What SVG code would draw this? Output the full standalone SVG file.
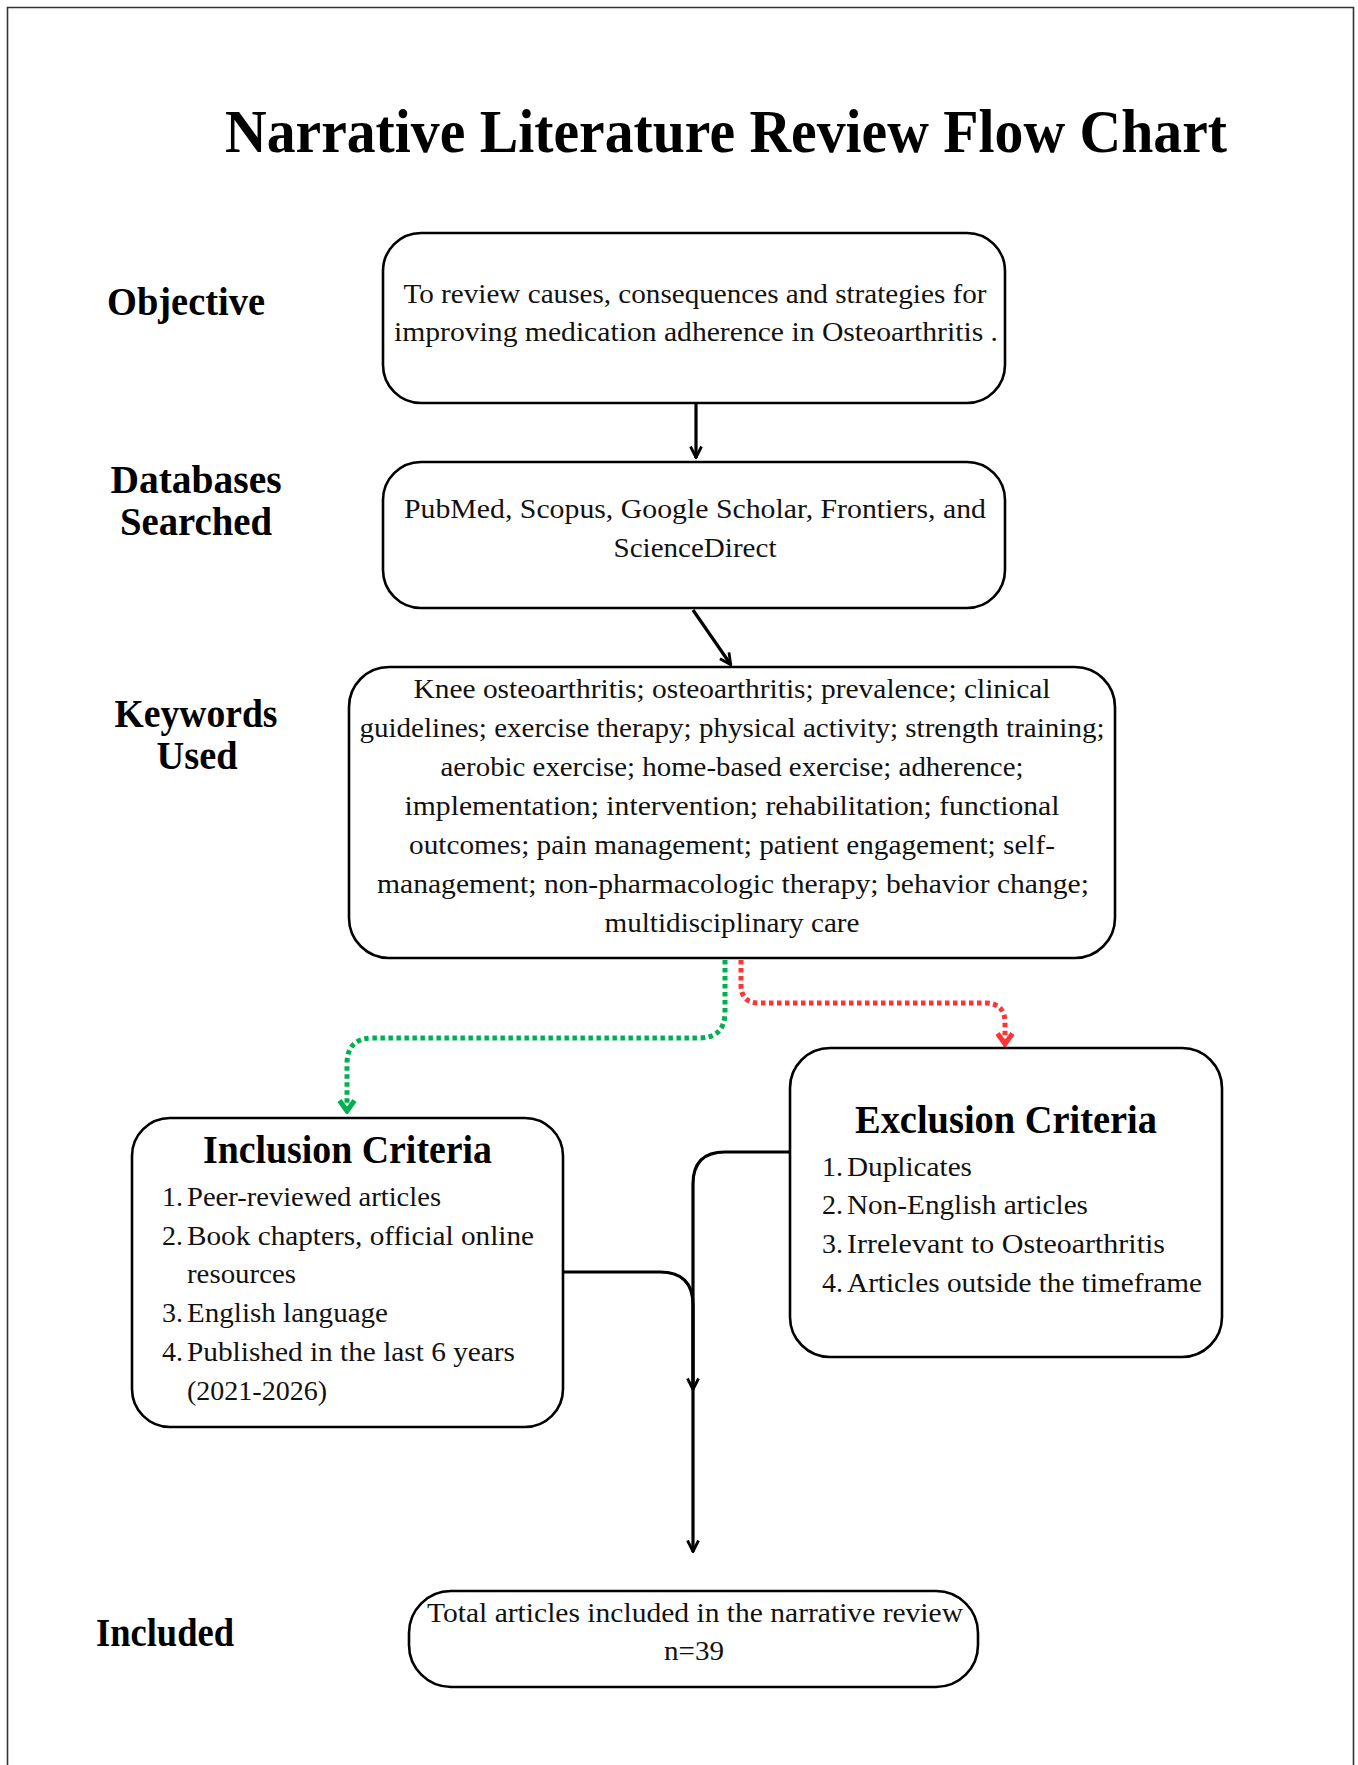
<svg xmlns="http://www.w3.org/2000/svg" width="1358" height="1765" viewBox="0 0 1358 1765">
<style>
.box{fill:#fff;stroke:#000;stroke-width:2.6}
.t{font-family:"Liberation Serif","Times New Roman",Tinos,Times,serif;font-size:28px;fill:#111}
.c{text-anchor:middle}
.b{font-family:"Liberation Serif","Times New Roman",Tinos,Times,serif;font-weight:bold;fill:#000}
.lab{font-size:40px;text-anchor:middle}
.con{fill:none;stroke:#000;stroke-width:3.2}
.dg{fill:none;stroke:#00b050;stroke-width:5;stroke-dasharray:4.5 3.5}
.dr{fill:none;stroke:#ff3535;stroke-width:5;stroke-dasharray:4.5 3.5}
</style>
<defs>
<marker id="ah" viewBox="0 0 14 14" refX="13" refY="7" markerWidth="14" markerHeight="14" orient="auto" markerUnits="userSpaceOnUse">
<path d="M1.5,1.5 L12.5,7 L1.5,12.5" fill="none" stroke="#000" stroke-width="2.8"/>
</marker>
<marker id="ag" viewBox="0 0 16 20" refX="14" refY="10" markerWidth="16" markerHeight="20" orient="auto" markerUnits="userSpaceOnUse">
<path d="M2.5,2.5 L13,10 L2.5,17.5" fill="none" stroke="#00b050" stroke-width="5"/>
</marker>
<marker id="ar" viewBox="0 0 16 20" refX="14" refY="10" markerWidth="16" markerHeight="20" orient="auto" markerUnits="userSpaceOnUse">
<path d="M2.5,2.5 L13,10 L2.5,17.5" fill="none" stroke="#ff3535" stroke-width="5"/>
</marker>
</defs>
<rect width="1358" height="1765" fill="#fff"/>
<path d="M7.5,1765 V7.5 H1353.5 V1765" fill="none" stroke="#333" stroke-width="1.6"/>

<text class="b" x="225" y="152" font-size="62" textLength="1002" lengthAdjust="spacingAndGlyphs">Narrative Literature Review Flow Chart</text>

<g id="labels">
<text class="b lab" x="186" y="315" textLength="158" lengthAdjust="spacingAndGlyphs">Objective</text>
<text class="b lab" x="196" y="493" textLength="171" lengthAdjust="spacingAndGlyphs">Databases</text>
<text class="b lab" x="196" y="535" textLength="152" lengthAdjust="spacingAndGlyphs">Searched</text>
<text class="b lab" x="196" y="727" textLength="163" lengthAdjust="spacingAndGlyphs">Keywords</text>
<text class="b lab" x="197" y="769" textLength="81" lengthAdjust="spacingAndGlyphs">Used</text>
<text class="b lab" x="165" y="1646" textLength="138" lengthAdjust="spacingAndGlyphs">Included</text>
</g>

<g id="connectors">
<path class="con" d="M696,404 V458" marker-end="url(#ah)"/>
<path class="con" d="M693,610 L731,665" marker-end="url(#ah)"/>
<path class="dg" d="M725,960 V1012 Q725,1038 699,1038 H373 Q347,1038 347,1064 V1112" marker-end="url(#ag)"/>
<path class="dr" d="M741,960 V985 Q741,1003 759,1003 H985 Q1005,1003 1005,1023 V1045" marker-end="url(#ar)"/>
<path class="con" d="M790,1152 H725 Q693,1152 693,1184 V1390" marker-end="url(#ah)"/>
<path class="con" d="M563,1272 H660 Q693,1272 693,1305 V1552" marker-end="url(#ah)"/>
</g>

<g id="objective">
<rect class="box" x="383" y="233" width="622" height="170" rx="38"/>
<text class="t c" x="695" y="303" textLength="583" lengthAdjust="spacingAndGlyphs">To review causes, consequences and strategies for</text>
<text class="t c" x="696" y="341" textLength="604" lengthAdjust="spacingAndGlyphs">improving medication adherence in Osteoarthritis .</text>
</g>

<g id="databases">
<rect class="box" x="383" y="462" width="622" height="146" rx="38"/>
<text class="t c" x="695" y="518" textLength="582" lengthAdjust="spacingAndGlyphs">PubMed, Scopus, Google Scholar, Frontiers, and</text>
<text class="t c" x="695" y="557" textLength="163" lengthAdjust="spacingAndGlyphs">ScienceDirect</text>
</g>

<g id="keywords">
<rect class="box" x="349" y="667" width="766" height="291" rx="40"/>
<text class="t c" x="732" y="698" textLength="637" lengthAdjust="spacingAndGlyphs">Knee osteoarthritis; osteoarthritis; prevalence; clinical</text>
<text class="t c" x="732" y="737" textLength="745" lengthAdjust="spacingAndGlyphs">guidelines; exercise therapy; physical activity; strength training;</text>
<text class="t c" x="732" y="776" textLength="583" lengthAdjust="spacingAndGlyphs">aerobic exercise; home-based exercise; adherence;</text>
<text class="t c" x="732" y="815" textLength="655" lengthAdjust="spacingAndGlyphs">implementation; intervention; rehabilitation; functional</text>
<text class="t c" x="732" y="854" textLength="646" lengthAdjust="spacingAndGlyphs">outcomes; pain management; patient engagement; self-</text>
<text class="t c" x="733" y="893" textLength="712" lengthAdjust="spacingAndGlyphs">management; non-pharmacologic therapy; behavior change;</text>
<text class="t c" x="732" y="932" textLength="255" lengthAdjust="spacingAndGlyphs">multidisciplinary care</text>
</g>

<g id="inclusion">
<rect class="box" x="132" y="1118" width="431" height="309" rx="38"/>
<text class="b" x="203" y="1163" font-size="39" textLength="289" lengthAdjust="spacingAndGlyphs">Inclusion Criteria</text>
<text class="t" x="162" y="1206">1.</text><text class="t" x="187" y="1206" textLength="254" lengthAdjust="spacingAndGlyphs">Peer-reviewed articles</text>
<text class="t" x="162" y="1245">2.</text><text class="t" x="187" y="1245" textLength="347" lengthAdjust="spacingAndGlyphs">Book chapters, official online</text>
<text class="t" x="187" y="1283" textLength="109" lengthAdjust="spacingAndGlyphs">resources</text>
<text class="t" x="162" y="1322">3.</text><text class="t" x="187" y="1322" textLength="201" lengthAdjust="spacingAndGlyphs">English language</text>
<text class="t" x="162" y="1361">4.</text><text class="t" x="187" y="1361" textLength="328" lengthAdjust="spacingAndGlyphs">Published in the last 6 years</text>
<text class="t" x="187" y="1400" textLength="140" lengthAdjust="spacingAndGlyphs">(2021-2026)</text>
</g>

<g id="exclusion">
<rect class="box" x="790" y="1048" width="432" height="309" rx="40"/>
<text class="b" x="855" y="1133" font-size="39" textLength="302" lengthAdjust="spacingAndGlyphs">Exclusion Criteria</text>
<text class="t" x="822" y="1176">1.</text><text class="t" x="847" y="1176" textLength="125" lengthAdjust="spacingAndGlyphs">Duplicates</text>
<text class="t" x="822" y="1214">2.</text><text class="t" x="847" y="1214" textLength="241" lengthAdjust="spacingAndGlyphs">Non-English articles</text>
<text class="t" x="822" y="1253">3.</text><text class="t" x="847" y="1253" textLength="318" lengthAdjust="spacingAndGlyphs">Irrelevant to Osteoarthritis</text>
<text class="t" x="822" y="1292">4.</text><text class="t" x="847" y="1292" textLength="355" lengthAdjust="spacingAndGlyphs">Articles outside the timeframe</text>
</g>

<g id="total">
<rect class="box" x="409" y="1591" width="569" height="96" rx="42"/>
<text class="t c" x="695" y="1622" textLength="536" lengthAdjust="spacingAndGlyphs">Total articles included in the narrative review</text>
<text class="t c" x="694" y="1660" textLength="60" lengthAdjust="spacingAndGlyphs">n=39</text>
</g>
</svg>
